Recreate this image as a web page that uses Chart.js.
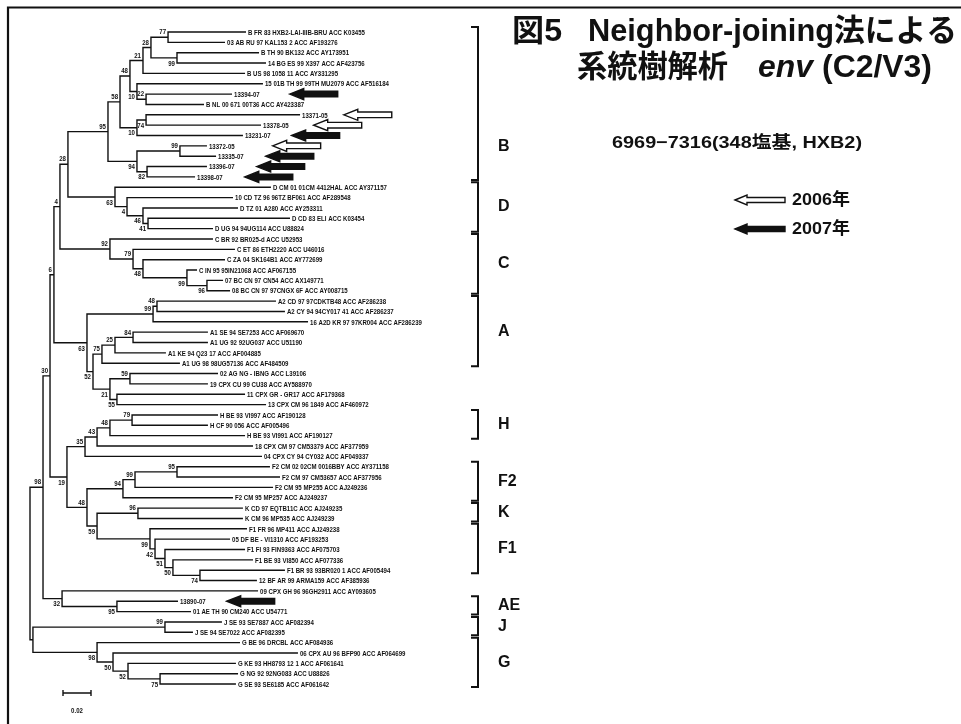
<!DOCTYPE html>
<html>
<head>
<meta charset="utf-8">
<title>系統樹解析 env (C2/V3)</title>
<script src="https://cdn.jsdelivr.net/npm/chart.js@4.4.1/dist/chart.umd.min.js"></script>
<style>
  html, body { margin: 0; padding: 0; background: #fff; }
  canvas { display: block; }
</style>
</head>
<body>
<canvas id="tree" width="961" height="724"></canvas>
<script>
// ---- Taxa (top to bottom) ----
const leafNames = [
  'B FR 83 HXB2-LAI-IIIB-BRU ACC K03455',
  '03 AB RU 97 KAL153 2 ACC AF193276',
  'B TH 90 BK132 ACC AY173951',
  '14 BG ES 99 X397 ACC AF423756',
  'B US 98 1058 11 ACC AY331295',
  '15 01B TH 99 99TH MU2079 ACC AF516184',
  '13394-07',
  'B NL 00 671 00T36 ACC AY423387',
  '13371-05',
  '13378-05',
  '13231-07',
  '13372-05',
  '13335-07',
  '13396-07',
  '13398-07',
  'D CM 01 01CM 4412HAL ACC AY371157',
  '10 CD TZ 96 96TZ BF061 ACC AF289548',
  'D TZ 01 A280 ACC AY253311',
  'D CD 83 ELI ACC K03454',
  'D UG 94 94UG114 ACC U88824',
  'C BR 92 BR025-d ACC U52953',
  'C ET 86 ETH2220 ACC U46016',
  'C ZA 04 SK164B1 ACC AY772699',
  'C IN 95 95IN21068 ACC AF067155',
  '07 BC CN 97 CN54 ACC AX149771',
  '08 BC CN 97 97CNGX 6F ACC AY008715',
  'A2 CD 97 97CDKTB48 ACC AF286238',
  'A2 CY 94 94CY017 41 ACC AF286237',
  '16 A2D KR 97 97KR004 ACC AF286239',
  'A1 SE 94 SE7253 ACC AF069670',
  'A1 UG 92 92UG037 ACC U51190',
  'A1 KE 94 Q23 17 ACC AF004885',
  'A1 UG 98 98UG57136 ACC AF484509',
  '02 AG NG - IBNG ACC L39106',
  '19 CPX CU 99 CU38 ACC AY588970',
  '11 CPX GR - GR17 ACC AF179368',
  '13 CPX CM 96 1849 ACC AF460972',
  'H BE 93 VI997 ACC AF190128',
  'H CF 90 056 ACC AF005496',
  'H BE 93 VI991 ACC AF190127',
  '18 CPX CM 97 CM53379 ACC AF377959',
  '04 CPX CY 94 CY032 ACC AF049337',
  'F2 CM 02 02CM 0016BBY ACC AY371158',
  'F2 CM 97 CM53657 ACC AF377956',
  'F2 CM 95 MP255 ACC AJ249236',
  'F2 CM 95 MP257 ACC AJ249237',
  'K CD 97 EQTB11C ACC AJ249235',
  'K CM 96 MP535 ACC AJ249239',
  'F1 FR 96 MP411 ACC AJ249238',
  '05 DF BE - VI1310 ACC AF193253',
  'F1 FI 93 FIN9363 ACC AF075703',
  'F1 BE 93 VI850 ACC AF077336',
  'F1 BR 93 93BR020 1 ACC AF005494',
  '12 BF AR 99 ARMA159 ACC AF385936',
  '09 CPX GH 96 96GH2911 ACC AY093605',
  '13890-07',
  '01 AE TH 90 CM240 ACC U54771',
  'J SE 93 SE7887 ACC AF082394',
  'J SE 94 SE7022 ACC AF082395',
  'G BE 96 DRCBL ACC AF084936',
  '06 CPX AU 96 BFP90 ACC AF064699',
  'G KE 93 HH8793 12 1 ACC AF061641',
  'G NG 92 92NG083 ACC U88826',
  'G SE 93 SE6185 ACC AF061642'
];

// Distance from the root to each tip (substitutions / site)
const tipDepth = [
  0.1543, 0.1393, 0.1636, 0.1686, 0.1536, 0.1664, 0.1443, 0.1243,
  0.1929, 0.1650, 0.1521, 0.1264, 0.1329, 0.1264, 0.1179,
  0.1721, 0.1450, 0.1486, 0.1857, 0.1307,
  0.1307, 0.1464, 0.1393, 0.1193, 0.1379, 0.1429,
  0.1757, 0.1821, 0.1986, 0.1271, 0.1271, 0.0971, 0.1071,
  0.1343, 0.1271, 0.1536, 0.1686,
  0.1343, 0.1271, 0.1536, 0.1593, 0.1657,
  0.1714, 0.1786, 0.1736, 0.1450,
  0.1521, 0.1521,
  0.1550, 0.1429, 0.1536, 0.1593, 0.1821, 0.1621, 0.1629,
  0.1057, 0.1150,
  0.1371, 0.1164,
  0.1500, 0.1914, 0.1471, 0.1486, 0.1471
];

// ---- Internal nodes (children: tip index or node id) ----
const nodeIds = [
  'n77','n99b','n28b','n21b','nb1','nb2','n48b','nb3','nb4','n58','n99c','n82','n94','n95',
  'nda','ndb','ndc','ndd','n28',
  'nca','ncb','ncc','ncd','nce','n4',
  'na48','na99','na84','na25','na75','na59','na55','na21','na52','na63','n6',
  'nh79','nh48','nh43','nh35',
  'nf95','nf99','nf94','nk96','n1e','n1d','n1c','n1b','n1a','nf59','nf48','n19','n30',
  'nae','n32','n98','nj','ng3','ng2','ng1','ng0','njg','root'
];
const nodeKids = [
  [0,1],[2,3],['n77','n99b'],['n28b',4],[6,7],[5,'nb1'],['n21b','nb2'],[8,9],['nb3',10],
  ['n48b','nb4'],[11,12],[13,14],['n99c','n82'],['n58','n94'],
  [18,19],[17,'nda'],[16,'ndb'],[15,'ndc'],['n95','ndd'],
  [24,25],[23,'nca'],[22,'ncb'],[21,'ncc'],[20,'ncd'],['n28','nce'],
  [26,27],['na48',28],[29,30],['na84',31],['na25',32],[33,34],[35,36],['na59','na55'],
  ['na75','na21'],['na99','na52'],['n4','na63'],
  [37,38],['nh79',39],['nh48',40],['nh43',41],
  [42,43],['nf95',44],['nf99',45],[46,47],[52,53],[51,'n1e'],[50,'n1d'],[49,'n1c'],[48,'n1b'],
  ['nk96','n1a'],['nf94','nf59'],['nh35','nf48'],['n6','n19'],
  [55,56],[54,'nae'],['n30','n32'],[57,58],[62,63],[61,'ng3'],[60,'ng2'],[59,'ng1'],
  ['nj','ng0'],['n98','njg']
];
const nodeDepth = [
  0.0986, 0.1050, 0.0864, 0.0807, 0.0829, 0.0764, 0.0714, 0.0829, 0.0764, 0.0643, 0.1071, 0.0836, 0.0764, 0.0557,
  0.0843, 0.0807, 0.0693, 0.0607, 0.0271,
  0.1264, 0.1121, 0.0807, 0.0736, 0.0571, 0.0214,
  0.0907, 0.0879, 0.0736, 0.0607, 0.0514, 0.0714, 0.0621, 0.0571, 0.0450, 0.0407, 0.0171,
  0.0729, 0.0571, 0.0479, 0.0393,
  0.1050, 0.0750, 0.0664, 0.0771, 0.1214, 0.1021, 0.0964, 0.0893, 0.0857, 0.0479, 0.0407, 0.0264, 0.0143,
  0.0621, 0.0229, 0.0093, 0.0964, 0.0929, 0.0700, 0.0593, 0.0479, 0.0021, 0
];
// Bootstrap support (%), 1000 replicates
const nodeSupport = [
  77, 99, 28, 21, 22, 10, 48, 74, 10, 58, 99, 82, 94, 95,
  41, 46, 4, 63, 28,
  96, 99, 48, 79, 92, 4,
  48, 99, 84, 25, 75, 59, 55, 21, 52, 63, 6,
  79, 48, 43, 35,
  95, 99, 94, 96, 74, 50, 51, 42, 99, 59, 48, 19, 30,
  95, 32, 98, 99, 75, 52, 50, 98, null, null
];

// ---- Subtypes / CRF groups (first and last tip) ----
const cladeNames = ['B', 'D', 'C', 'A', 'H', 'F2', 'K', 'F1', 'AE', 'J', 'G'];
const cladeFirst = [0, 15, 20, 26, 37, 42, 46, 48, 55, 57, 59];
const cladeLast  = [14, 19, 25, 32, 39, 45, 47, 52, 56, 58, 63];

// ---- Study samples and collection year ----
const sampleLeaf = [6, 8, 9, 10, 11, 12, 13, 14, 55];
const sampleYear = [2007, 2006, 2006, 2007, 2006, 2007, 2007, 2007, 2007];
const legendYears = [2006, 2007];

const scaleBarLength = 0.02;
const titleLine1 = ['図5', 'Neighbor-joining法による'];
const titleLine2 = ['系統樹解析', 'env', '(C2/V3)'];
const regionText = '6969−7316(348塩基, HXB2)';

// ---------------- presentation ----------------
const INK = '#111';
const supportSide = [
  'a','b','a','a','a','b','a','b','b','a','a','b','b','a',
  'b','b','b','b','a',
  'b','b','b','a','a','a',
  'a','a','a','a','a','a','b','b','b','b','a',
  'a','a','a','a',
  'a','a','a','a','b','b','b','b','b','b','a','b','a',
  'b','b','a','a','b','b','b','b','',''
];
const arrowGap = [30, 16, 25, 21, 38, 22, 22, 22, 21];
const LABEL_FONT = 'bold 8px "Liberation Sans", Arial, sans-serif';
const LABEL_SX = 0.76;

const nodeIndex = {};
nodeIds.forEach((id, i) => { nodeIndex[id] = i; });
const nodeRow = [];
function rowOf(ref) {
  if (typeof ref === 'number') return ref;
  const i = nodeIndex[ref];
  if (nodeRow[i] === undefined) {
    const [a, b] = nodeKids[i];
    nodeRow[i] = (rowOf(a) + rowOf(b)) / 2;
  }
  return nodeRow[i];
}
function depthOf(ref) {
  return typeof ref === 'number' ? tipDepth[ref] : nodeDepth[nodeIndex[ref]];
}
nodeIds.forEach(id => rowOf(id));

// One elbow (child -> node -> child) per internal node
const branchSets = nodeIds.map((id, i) => {
  const [a, b] = nodeKids[i];
  const d = nodeDepth[i];
  return {
    label: id,
    data: [
      { x: depthOf(a), y: rowOf(a) },
      { x: d, y: rowOf(a) },
      { x: d, y: rowOf(b) },
      { x: depthOf(b), y: rowOf(b) }
    ],
    showLine: true,
    borderColor: INK,
    borderWidth: 1.4,
    borderJoinStyle: 'miter',
    pointRadius: 0,
    fill: false,
    tension: 0
  };
});

function fitText(ctx, text, x, y, font, width, align) {
  ctx.save();
  ctx.font = font;
  const w = ctx.measureText(text).width;
  const s = width ? width / w : 1;
  ctx.translate(x, y);
  ctx.scale(s, 1);
  ctx.textAlign = align || 'left';
  ctx.fillText(text, 0, 0);
  ctx.restore();
}

function smallText(ctx, text, x, y, align) {
  ctx.save();
  ctx.font = LABEL_FONT;
  ctx.translate(x, y);
  ctx.scale(LABEL_SX, 1);
  ctx.textAlign = align || 'left';
  ctx.fillText(text, 0, 0);
  const w = ctx.measureText(text).width * LABEL_SX;
  ctx.restore();
  return w;
}

function arrow(ctx, tipX, y, len, hl, hh, sh, filled) {
  ctx.save();
  ctx.beginPath();
  ctx.moveTo(tipX, y);
  ctx.lineTo(tipX + hl, y - hh);
  ctx.lineTo(tipX + hl, y - sh);
  ctx.lineTo(tipX + len, y - sh);
  ctx.lineTo(tipX + len, y + sh);
  ctx.lineTo(tipX + hl, y + sh);
  ctx.lineTo(tipX + hl, y + hh);
  ctx.closePath();
  ctx.fillStyle = filled ? INK : '#fff';
  ctx.fill();
  ctx.lineWidth = 1.4;
  ctx.strokeStyle = INK;
  ctx.lineJoin = 'miter';
  ctx.stroke();
  ctx.restore();
}

const annotate = {
  id: 'annotate',
  afterDraw(chart) {
    const ctx = chart.ctx;
    const xs = chart.scales.x, ys = chart.scales.y;
    const X = v => xs.getPixelForValue(v);
    const Y = v => ys.getPixelForValue(v);
    ctx.save();
    ctx.fillStyle = INK;
    ctx.textBaseline = 'middle';

    // tip labels
    const labelEnd = [];
    leafNames.forEach((name, i) => {
      const x0 = X(tipDepth[i]) + 2;
      const w = smallText(ctx, name, x0, Y(i) + 0.5);
      labelEnd[i] = x0 + w;
    });

    // bootstrap values
    nodeIds.forEach((id, i) => {
      if (nodeSupport[i] == null) return;
      const dy = supportSide[i] === 'a' ? -5 : 5.5;
      smallText(ctx, String(nodeSupport[i]), X(nodeDepth[i]) - 2, Y(nodeRow[i]) + dy, 'right');
    });

    // sample arrows
    sampleLeaf.forEach((leaf, k) => {
      const tip = labelEnd[leaf] + arrowGap[k];
      arrow(ctx, tip, Y(leaf), 48, 14, 5.5, 2.8, sampleYear[k] === 2007);
    });

    // clade brackets and names
    ctx.strokeStyle = INK;
    ctx.lineWidth = 2;
    cladeNames.forEach((name, k) => {
      const top = Y(cladeFirst[k]) - 5;
      const bot = Y(cladeLast[k]) + 3;
      ctx.beginPath();
      ctx.moveTo(471, top);
      ctx.lineTo(478, top);
      ctx.lineTo(478, bot);
      ctx.lineTo(471, bot);
      ctx.stroke();
      const mid = name === 'B' ? Y(11.1) : (top + bot) / 2;
      ctx.font = 'bold 16px "Liberation Sans", Arial, sans-serif';
      ctx.textAlign = 'left';
      ctx.fillText(name, 498, mid);
    });

    // title
    const TF = 'bold 31px "Liberation Sans", Arial, "Noto Sans CJK JP", sans-serif';
    const TFI = 'italic bold 31px "Liberation Sans", Arial, sans-serif';
    fitText(ctx, titleLine1[0], 512, 32, TF, 50);
    fitText(ctx, titleLine1[1], 588, 32, TF, 369);
    fitText(ctx, titleLine2[0], 577, 68, TF, 151);
    fitText(ctx, titleLine2[1], 758, 68, TFI, 55);
    fitText(ctx, titleLine2[2], 822, 68, TF, 110);

    // sequence region
    fitText(ctx, regionText, 612, 143, 'bold 17px "Liberation Sans", Arial, "Noto Sans CJK JP", sans-serif', 250);

    // year legend
    legendYears.forEach((yr, k) => {
      const ly = 200 + k * 29;
      arrow(ctx, 735, ly, 50, 12, 5, 2.5, yr === 2007);
      fitText(ctx, yr + '年', 792, ly, 'bold 17px "Liberation Sans", Arial, "Noto Sans CJK JP", sans-serif', 58);
    });

    // scale bar
    const barPx = X(scaleBarLength) - X(0);
    const bx = 63, by = 693;
    ctx.lineWidth = 1.4;
    ctx.beginPath();
    ctx.moveTo(bx, by); ctx.lineTo(bx + barPx, by);
    ctx.moveTo(bx, by - 3); ctx.lineTo(bx, by + 3);
    ctx.moveTo(bx + barPx, by - 3); ctx.lineTo(bx + barPx, by + 3);
    ctx.stroke();
    smallText(ctx, String(scaleBarLength), bx + barPx / 2, 711, 'center');

    // frame
    ctx.lineWidth = 2.2;
    ctx.beginPath();
    ctx.moveTo(8, 724); ctx.lineTo(8, 7.5); ctx.lineTo(961, 7.5);
    ctx.stroke();
    ctx.restore();
  }
};

// pixel frame: root at x=30, 28 px per 0.02; tip rows from y=32, 10.35 px apart
const PX_PER_UNIT = 1400;
const ROW_PX = 10.35;
new Chart(document.getElementById('tree'), {
  type: 'scatter',
  data: { datasets: branchSets },
  options: {
    responsive: false,
    animation: false,
    devicePixelRatio: 1,
    events: [],
    layout: { padding: 0 },
    plugins: { legend: { display: false }, tooltip: { enabled: false } },
    scales: {
      x: { type: 'linear', display: false, min: -30 / PX_PER_UNIT, max: (961 - 30) / PX_PER_UNIT },
      y: { type: 'linear', display: false, reverse: true, min: -32 / ROW_PX, max: (724 - 32) / ROW_PX }
    }
  },
  plugins: [annotate]
});
</script>
</body>
</html>
